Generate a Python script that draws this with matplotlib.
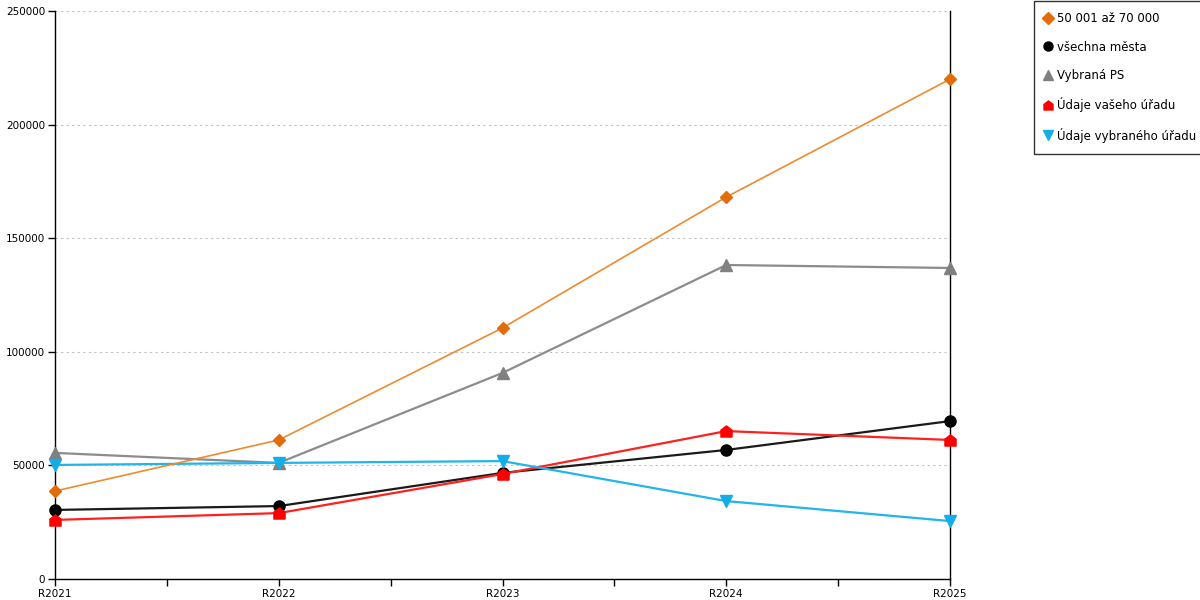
import numpy as np
import matplotlib
matplotlib.use('Agg')
import matplotlib.pyplot as plt
from matplotlib.path import Path
from matplotlib.ticker import MultipleLocator, FixedLocator

plt.rcParams['font.family'] = ['DejaVu Sans']

years = ['R2021', 'R2022', 'R2023', 'R2024', 'R2025']

orange_vals = [38700, 61200, 110500, 168100, 220000]   # 50 001 až 70 000
black_vals = [30400, 32100, 46700, 56800, 69500]       # všechna města
gray_vals = [55500, 51100, 90700, 138200, 136900]      # Vybraná PS
red_vals = [26000, 29000, 46200, 65100, 61200]         # Údaje vašeho úřadu
blue_vals = [50200, 51100, 51900, 34300, 25500]        # Údaje vybraného úřadu

# marker ve tvaru domečku
house = Path([(-1, -1), (1, -1), (1, 0.25), (0, 1), (-1, 0.25), (-1, -1)],
             [Path.MOVETO, Path.LINETO, Path.LINETO, Path.LINETO, Path.LINETO, Path.CLOSEPOLY])

fig = plt.figure(figsize=(12, 6), dpi=100)
ax = fig.add_axes([55 / 1200, 21 / 600, 895 / 1200, 568 / 600])

x = np.arange(len(years))
ax.plot(x, orange_vals, color='#ef8a2e', lw=1.2, marker='D', ms=6,
        mfc='#e36c0a', mec='#e36c0a', label='50 001 až 70 000', zorder=5, clip_on=False)
ax.plot(x, black_vals, color='#1a1a1a', lw=1.6, marker='o', ms=8,
        mfc='black', mec='black', label='všechna města', zorder=4, clip_on=False)
ax.plot(x, gray_vals, color='#8c8c8c', lw=1.6, marker='^', ms=8,
        mfc='#808080', mec='#808080', label='Vybraná PS', zorder=3, clip_on=False)
ax.plot(x, red_vals, color='#ff2020', lw=1.6, marker=house, ms=8,
        mfc='#ff0000', mec='#ff0000', label='Údaje vašeho úřadu', zorder=4, clip_on=False)
ax.plot(x, blue_vals, color='#22b4ec', lw=1.6, marker='v', ms=8,
        mfc='#13aee8', mec='#13aee8', label='Údaje vybraného úřadu', zorder=4, clip_on=False)

ax.set_xlim(0, len(years) - 1)
ax.set_ylim(0, 250000)
ax.set_xticks(x)
ax.set_xticklabels(years)
ax.xaxis.set_minor_locator(FixedLocator(x[:-1] + 0.5))
ax.yaxis.set_major_locator(MultipleLocator(50000))
ax.yaxis.grid(True, color='#c0c0c0', ls=(0, (2, 3)), lw=0.8)
ax.set_axisbelow(True)

ax.spines['top'].set_visible(False)
for s in ['left', 'bottom', 'right']:
    ax.spines[s].set_linewidth(1.0)
    ax.spines[s].set_color('black')

ax.tick_params(axis='both', labelsize=7.5, length=5, width=1, pad=2, direction='out')
ax.tick_params(axis='x', which='minor', length=5, width=1)
ax.tick_params(axis='y', right=False)

leg = fig.legend(loc='upper left', bbox_to_anchor=(1034 / 1200, 1 - 1 / 600),
                 fontsize=8.5, frameon=True, fancybox=False, edgecolor='black',
                 handlelength=0.4, handletextpad=0.6, labelspacing=1.3,
                 borderpad=0.95, borderaxespad=0)
for h in leg.legend_handles:
    h.set_linestyle('none')
    h.set_markersize(6.5)
leg.get_frame().set_linewidth(1.0)

fig.savefig('out.png', dpi=100)
